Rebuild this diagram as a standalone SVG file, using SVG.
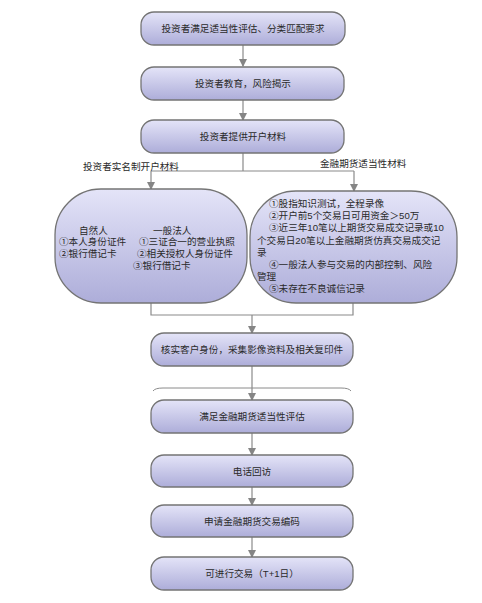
<svg xmlns="http://www.w3.org/2000/svg" width="482" height="603" viewBox="0 0 482 603">
<defs>
<linearGradient id="g" x1="0" y1="0" x2="0" y2="1">
<stop offset="0" stop-color="#e4e4f8"/>
<stop offset="1" stop-color="#adadd9"/>
</linearGradient>
<marker id="ah" markerWidth="8" markerHeight="8" refX="7" refY="4" orient="auto" markerUnits="userSpaceOnUse">
<path d="M0,0 L8,4 L0,8 z" fill="#858585"/>
</marker>
<style>
.box{fill:url(#g);stroke:#747474;stroke-width:1.3}
.t{font-family:"Liberation Sans","Noto Sans CJK SC",sans-serif;font-size:9.6px;fill:#2a2a2a}
.c{text-anchor:middle}
.ln{fill:none;stroke:#8a8a8a;stroke-width:1.2}
.ar{fill:none;stroke:#8a8a8a;stroke-width:1.2;marker-end:url(#ah)}
</style>
</defs>
<rect width="482" height="603" fill="#ffffff"/>
<g id="connectors">
<path class="ar" d="M243,45 V66"/>
<path class="ar" d="M243,100 V120"/>
<path class="ln" d="M243,153 V171 M151,171 H354"/>
<path class="ar" d="M151,171 V189"/>
<path class="ar" d="M354,171 V191"/>
<path class="ln" d="M151,303 V315 H353 V303"/>
<path class="ar" d="M252,315 V333"/>
<path class="ar" d="M252,366 V400"/>
<path class="ar" d="M252,433 V455"/>
<path class="ar" d="M252,487 V505"/>
<path class="ar" d="M252,537 V557"/>
<path fill="none" stroke="#8a8a8a" stroke-width="1" d="M153,391 Q155,388 163,388 L341,388 Q349,388 351,391"/>
</g>
<g id="n1"><rect class="box" x="141" y="12" width="204" height="33" rx="13"/><text class="t c" x="243" y="32">投资者满足适当性评估、分类匹配要求</text></g>
<g id="n2"><rect class="box" x="141" y="67" width="203" height="33" rx="13"/><text class="t c" x="243" y="87">投资者教育，风险揭示</text></g>
<g id="n3"><rect class="box" x="141" y="120" width="203" height="33" rx="13"/><text class="t c" x="243" y="140">投资者提供开户材料</text></g>
<text class="t" x="83" y="169.5">投资者实名制开户材料</text>
<text class="t" x="320" y="166.5">金融期货适当性材料</text>
<g id="n4">
<rect class="box" x="55" y="189" width="192" height="114" rx="46" ry="46"/>
<text class="t" x="79" y="233.5">自然人</text>
<text class="t" x="59" y="245">①本人身份证件</text>
<text class="t" x="59" y="256.7">②银行借记卡</text>
<text class="t" x="153" y="233.5">一般法人</text>
<text class="t" x="139" y="245">①三证合一的营业执照</text>
<text class="t" x="137" y="256.7">②相关授权人身份证件</text>
<text class="t" x="133" y="268.5">③银行借记卡</text>
</g>
<g id="n5">
<rect class="box" x="250" y="191" width="207" height="112" rx="46" ry="46"/>
<text class="t" x="269" y="207">①股指知识测试，全程录像</text>
<text class="t" x="269" y="219.2">②开户前5个交易日可用资金＞50万</text>
<text class="t" x="269" y="231.4">③近三年10笔以上期货交易成交记录或10</text>
<text class="t" x="257" y="243.6">个交易日20笔以上金融期货仿真交易成交记</text>
<text class="t" x="257" y="255.8">录</text>
<text class="t" x="269" y="268">④一般法人参与交易的内部控制、风险</text>
<text class="t" x="257" y="280.2">管理</text>
<text class="t" x="269" y="292.4">⑤未存在不良诚信记录</text>
</g>
<g id="n6"><rect class="box" x="151" y="333" width="202" height="33" rx="13"/><text class="t c" x="252" y="353">核实客户身份，采集影像资料及相关复印件</text></g>
<g id="n7"><rect class="box" x="151" y="400" width="202" height="33" rx="13"/><text class="t c" x="252" y="420">满足金融期货适当性评估</text></g>
<g id="n8"><rect class="box" x="151" y="455" width="202" height="32" rx="13"/><text class="t c" x="252" y="474.5">电话回访</text></g>
<g id="n9"><rect class="box" x="151" y="505" width="202" height="32" rx="13"/><text class="t c" x="252" y="524.5">申请金融期货交易编码</text></g>
<g id="n10"><rect class="box" x="151" y="557" width="202" height="33" rx="13"/><text class="t c" x="252" y="577">可进行交易（T+1日）</text></g>
</svg>
